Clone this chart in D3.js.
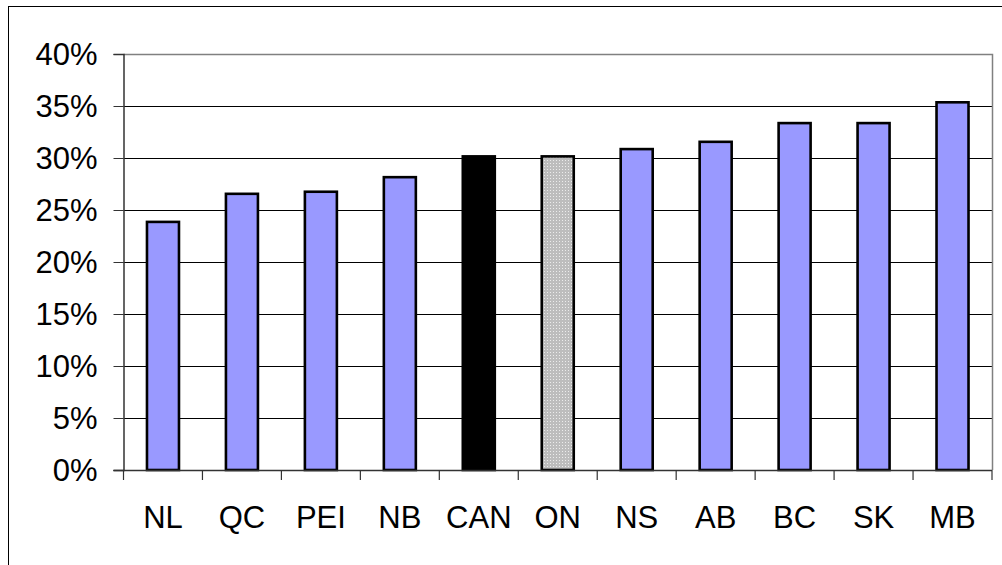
<!DOCTYPE html>
<html><head><meta charset="utf-8">
<script src="https://cdn.jsdelivr.net/npm/d3@7"></script>
<style>body{margin:0;background:#fff}svg{display:block}text{font-family:"Liberation Sans",Arial,sans-serif;fill:#000}</style>
</head><body>
<script>
const categories = ["NL","QC","PEI","NB","CAN","ON","NS","AB","BC","SK","MB"];
const values = [0.240,0.267,0.269,0.283,0.303,0.303,0.310,0.317,0.335,0.335,0.355];
const yTicks = [0,0.05,0.10,0.15,0.20,0.25,0.30,0.35,0.40];
const fills = {CAN:"#000000", ON:"url(#dots)"};
const W=1002,H=565;
const m={left:123.5,right:992,top:54,bottom:470};
const svg=d3.select("body").append("svg").attr("width",W).attr("height",H);
const defs=svg.append("defs");
const p=defs.append("pattern").attr("id","dots").attr("patternUnits","userSpaceOnUse").attr("width",3).attr("height",3);
p.append("rect").attr("width",3).attr("height",3).attr("fill","#bdbdbd");
p.append("rect").attr("x",1).attr("y",1).attr("width",1).attr("height",1).attr("fill","#ececec");
// outer border
svg.append("rect").attr("x",8.5).attr("y",6.5).attr("width",1100).attr("height",700).attr("fill","none").attr("stroke","#000").attr("stroke-width",1);
const x=d3.scaleBand().domain(categories).range([m.left,m.right]);
const y=d3.scaleLinear().domain([0,0.4]).range([m.bottom,m.top]);
// grid
svg.append("g").selectAll("line").data(yTicks.filter(d=>d>0&&d<0.4)).join("line")
 .attr("x1",m.left).attr("x2",m.right).attr("y1",d=>Math.round(y(d))+0.5).attr("y2",d=>Math.round(y(d))+0.5)
 .attr("stroke","#000").attr("stroke-width",1);
// plot border top/right
svg.append("path").attr("d",`M${m.left},${m.top+0.5}H${m.right+0.5}V${m.bottom}`).attr("fill","none").attr("stroke","#808080").attr("stroke-width",1.5);
// bars
const bw=32;
svg.append("g").selectAll("rect").data(categories).join("rect")
 .attr("x",d=>x(d)+x.bandwidth()/2-bw/2).attr("width",bw)
 .attr("y",(d,i)=>y(values[i])+1.5).attr("height",(d,i)=>m.bottom-y(values[i])-1.5)
 .attr("fill",d=>fills[d]||"#9999FF").attr("stroke","#000").attr("stroke-width",2.6);
// y axis
const ya=svg.append("g").attr("transform",`translate(${m.left},0)`)
 .call(d3.axisLeft(y).tickValues(yTicks).tickFormat(d3.format(".0%")).tickSize(10).tickPadding(16));
ya.select(".domain").attr("stroke","#333").attr("stroke-width",1.5);
ya.selectAll(".tick line").attr("stroke","#333");
ya.selectAll("text").attr("font-size",31).attr("font-family","Liberation Sans, Arial").attr("dy","0.34em").attr("fill","#000");
// x axis
const xa=svg.append("g").attr("transform",`translate(0,${m.bottom})`)
 .call(d3.axisBottom(x).tickSize(0).tickPadding(36));
xa.select(".domain").remove();
xa.selectAll("text").attr("font-size",31).attr("font-family","Liberation Sans, Arial").attr("fill","#000");
svg.append("line").attr("x1",m.left-10).attr("x2",m.right).attr("y1",m.bottom+0.5).attr("y2",m.bottom+0.5).attr("stroke","#333").attr("stroke-width",1.5);
const tickPos=categories.map(d=>x(d)).concat([m.right]);
svg.append("g").selectAll("line").data(tickPos).join("line")
 .attr("x1",d=>d).attr("x2",d=>d).attr("y1",m.bottom).attr("y2",m.bottom+10).attr("stroke","#333").attr("stroke-width",1.2);
</script>
</body></html>
